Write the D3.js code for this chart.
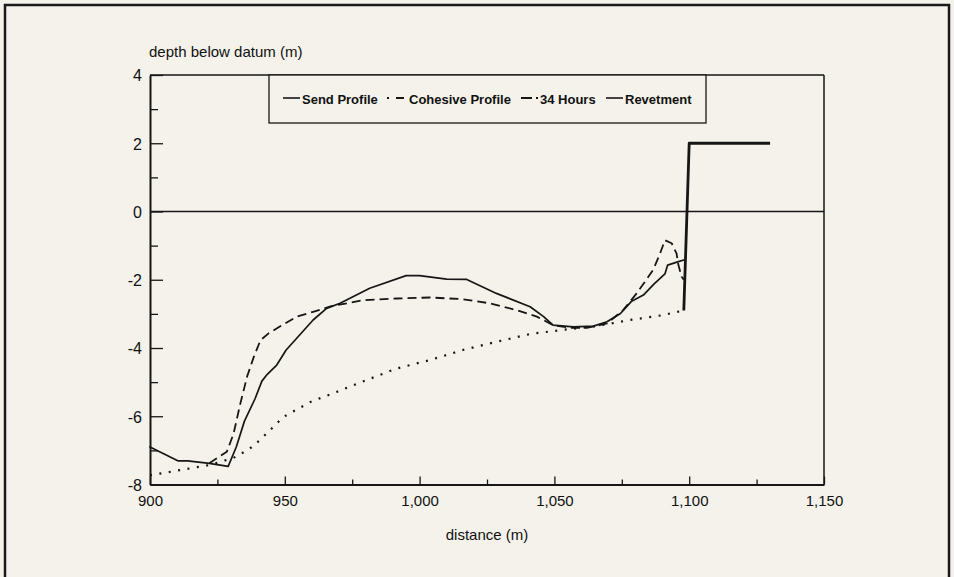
<!DOCTYPE html>
<html>
<head>
<meta charset="utf-8">
<script src="https://cdn.jsdelivr.net/npm/d3@7"></script>
<style>
  html, body { margin: 0; padding: 0; background: #f4f2ea; }
  svg { display: block; }
  text { font-family: "Liberation Sans", Arial, Helvetica, sans-serif; fill: #111; }
</style>
</head>
<body>
<svg id="chart" width="954" height="577"></svg>
<script>
// ---- data ----
const sandX  = [900, 910.5, 914, 922, 929, 932, 935, 939, 941.5, 943.5, 947, 950.5, 955.5, 960.5, 965.5, 970.5, 981.5, 995, 1000, 1010, 1017.5, 1028.5, 1041, 1046, 1049.5, 1057, 1064.5, 1069.5, 1074.5, 1078.5, 1083, 1087, 1091, 1092, 1096, 1098];
const sandY  = [-6.9, -7.31, -7.31, -7.38, -7.47, -6.9, -6.15, -5.48, -4.97, -4.77, -4.5, -4.06, -3.62, -3.18, -2.84, -2.69, -2.25, -1.88, -1.88, -1.98, -1.99, -2.4, -2.79, -3.08, -3.33, -3.38, -3.36, -3.23, -2.99, -2.64, -2.45, -2.12, -1.83, -1.57, -1.47, -1.42];

const cohX   = [900, 911, 922, 931, 937, 940, 944.5, 949.5, 959.5, 969.5, 980, 991.5, 1004, 1016, 1028.5, 1041, 1053, 1065.5, 1078, 1090, 1098];
const cohY   = [-7.73, -7.58, -7.43, -7.22, -6.95, -6.75, -6.41, -6.02, -5.58, -5.28, -4.95, -4.6, -4.35, -4.06, -3.82, -3.59, -3.47, -3.36, -3.18, -3.04, -2.9];

const hoursX = [922, 928.5, 931, 933.5, 936, 938.5, 941, 944, 948, 954.5, 960.5, 967, 979, 991.5, 1004, 1016, 1026, 1036, 1043.5, 1049.5, 1056, 1062, 1069.5, 1075.5, 1080.5, 1084, 1086.7, 1089.2, 1091, 1093.5, 1095.3, 1096, 1097.2, 1098];
const hoursY = [-7.38, -7.04, -6.51, -5.63, -4.84, -4.26, -3.77, -3.57, -3.38, -3.08, -2.94, -2.78, -2.6, -2.55, -2.52, -2.57, -2.69, -2.89, -3.08, -3.33, -3.41, -3.41, -3.28, -2.89, -2.4, -2.01, -1.7, -1.23, -0.84, -0.93, -1.23, -1.57, -1.91, -2.0];

const revX   = [1098, 1100, 1130];
const revY   = [-2.9, 2, 2];

const xTicks = [900, 950, 1000, 1050, 1100, 1150];
const xMinorTicks = [925, 975, 1025, 1075, 1125];
const yTicks = [-8, -6, -4, -2, 0, 2, 4];
const yMinorTicks = [-7, -5, -3, -1, 1, 3];

const legendLabels = ["Send Profile", "Cohesive Profile", "34 Hours", "Revetment"];
const yTitle = "depth below datum (m)";
const xTitle = "distance (m)";

// ---- chart ----
const svg = d3.select("#chart");
const L = 150, R = 824, T = 75, B = 484.5;
const x = d3.scaleLinear().domain([900, 1150]).range([L, R]);
const y = d3.scaleLinear().domain([-8, 4]).range([B, T]);
const ink = "#161616";
const hyphenFmt = d => String(d).replace("\u2212", "-");

// outer frame
svg.append("rect").attr("x", 5).attr("y", 5).attr("width", 944).attr("height", 600)
  .attr("fill", "none").attr("stroke", "#1a1a1a").attr("stroke-width", 2.5);

// plot frame: top & right
svg.append("line").attr("x1", L).attr("x2", R).attr("y1", T).attr("y2", T)
  .attr("stroke", ink).attr("stroke-width", 1.5);
svg.append("line").attr("x1", R).attr("x2", R).attr("y1", T).attr("y2", B)
  .attr("stroke", ink).attr("stroke-width", 1.5);

// y axis (ticks inward)
const yAxis = svg.append("g").attr("transform", `translate(${L},0)`)
  .call(d3.axisLeft(y).tickValues(yTicks).tickFormat(hyphenFmt)
        .tickSizeInner(-13).tickSizeOuter(0).tickPadding(8));
yAxis.select(".domain").attr("stroke", ink).attr("stroke-width", 2);
yAxis.selectAll(".tick line").attr("stroke", ink).attr("stroke-width", 1.3);
yAxis.selectAll(".tick text").style("font-size", "16px").attr("fill", ink).attr("dy", "0.36em");

const yMinor = svg.append("g").attr("transform", `translate(${L},0)`)
  .call(d3.axisLeft(y).tickValues(yMinorTicks).tickFormat("").tickSizeInner(-8).tickSizeOuter(0));
yMinor.select(".domain").remove();
yMinor.selectAll(".tick line").attr("stroke", ink).attr("stroke-width", 1.3);

// x axis (ticks inward)
const xAxis = svg.append("g").attr("transform", `translate(0,${B})`)
  .call(d3.axisBottom(x).tickValues(xTicks).tickFormat(d3.format(","))
        .tickSizeInner(-8).tickSizeOuter(0).tickPadding(11));
xAxis.select(".domain").attr("stroke", ink).attr("stroke-width", 2);
xAxis.selectAll(".tick line").attr("stroke", ink).attr("stroke-width", 1.3);
xAxis.selectAll(".tick text").style("font-size", "15px").attr("fill", ink);

const xMinor = svg.append("g").attr("transform", `translate(0,${B})`)
  .call(d3.axisBottom(x).tickValues(xMinorTicks).tickFormat("").tickSizeInner(-5).tickSizeOuter(0));
xMinor.select(".domain").remove();
xMinor.selectAll(".tick line").attr("stroke", ink).attr("stroke-width", 1.3);

// zero line
svg.append("line").attr("x1", x(900)).attr("x2", x(1150)).attr("y1", y(0)).attr("y2", y(0))
  .attr("stroke", ink).attr("stroke-width", 1.5);

// titles
svg.append("text").attr("x", 149).attr("y", 57).style("font-size", "15px")
  .text(yTitle);
svg.append("text").attr("x", 487).attr("y", 540).attr("text-anchor", "middle")
  .style("font-size", "15px").text(xTitle);

// series
const line = d3.line().x(d => x(d[0])).y(d => y(d[1]));
const zip = (a, b) => a.map((v, i) => [v, b[i]]);

const styles = [
  { pts: zip(cohX, cohY),     w: 2.2, dash: "2,7.5", cap: "butt" },
  { pts: zip(hoursX, hoursY), w: 1.8, dash: "9,5",   cap: "butt" },
  { pts: zip(sandX, sandY),   w: 1.7, dash: null,    cap: "round" },
  { pts: zip(revX, revY),     w: 2.8, dash: null,    cap: "butt" }
];
styles.forEach(s => {
  svg.append("path").attr("d", line(s.pts)).attr("fill", "none")
    .attr("stroke", ink).attr("stroke-width", s.w)
    .attr("stroke-dasharray", s.dash).attr("stroke-linecap", s.cap)
    .attr("stroke-linejoin", "round");
});

// legend
const lg = svg.append("g");
lg.append("rect").attr("x", 269).attr("y", T).attr("width", 437).attr("height", 48)
  .attr("fill", "#f4f2ea").attr("stroke", ink).attr("stroke-width", 1.3);
const legendItems = [
  { sx: 283, tx: 302, dash: null,      w: 1.6 },
  { sx: 387, tx: 409, dash: "2,7,8",   w: 2.0 },
  { sx: 521, tx: 540, dash: "11,4,2",  w: 1.8 },
  { sx: 606, tx: 625, dash: null,      w: 1.6 }
];
legendItems.forEach((it, i) => {
  lg.append("line").attr("x1", it.sx).attr("x2", it.sx + 17).attr("y1", 98).attr("y2", 98)
    .attr("stroke", ink).attr("stroke-width", it.w).attr("stroke-dasharray", it.dash);
  lg.append("text").attr("x", it.tx).attr("y", 104).style("font-size", "13px")
    .style("font-weight", "bold").text(legendLabels[i]);
});
</script>
</body>
</html>
